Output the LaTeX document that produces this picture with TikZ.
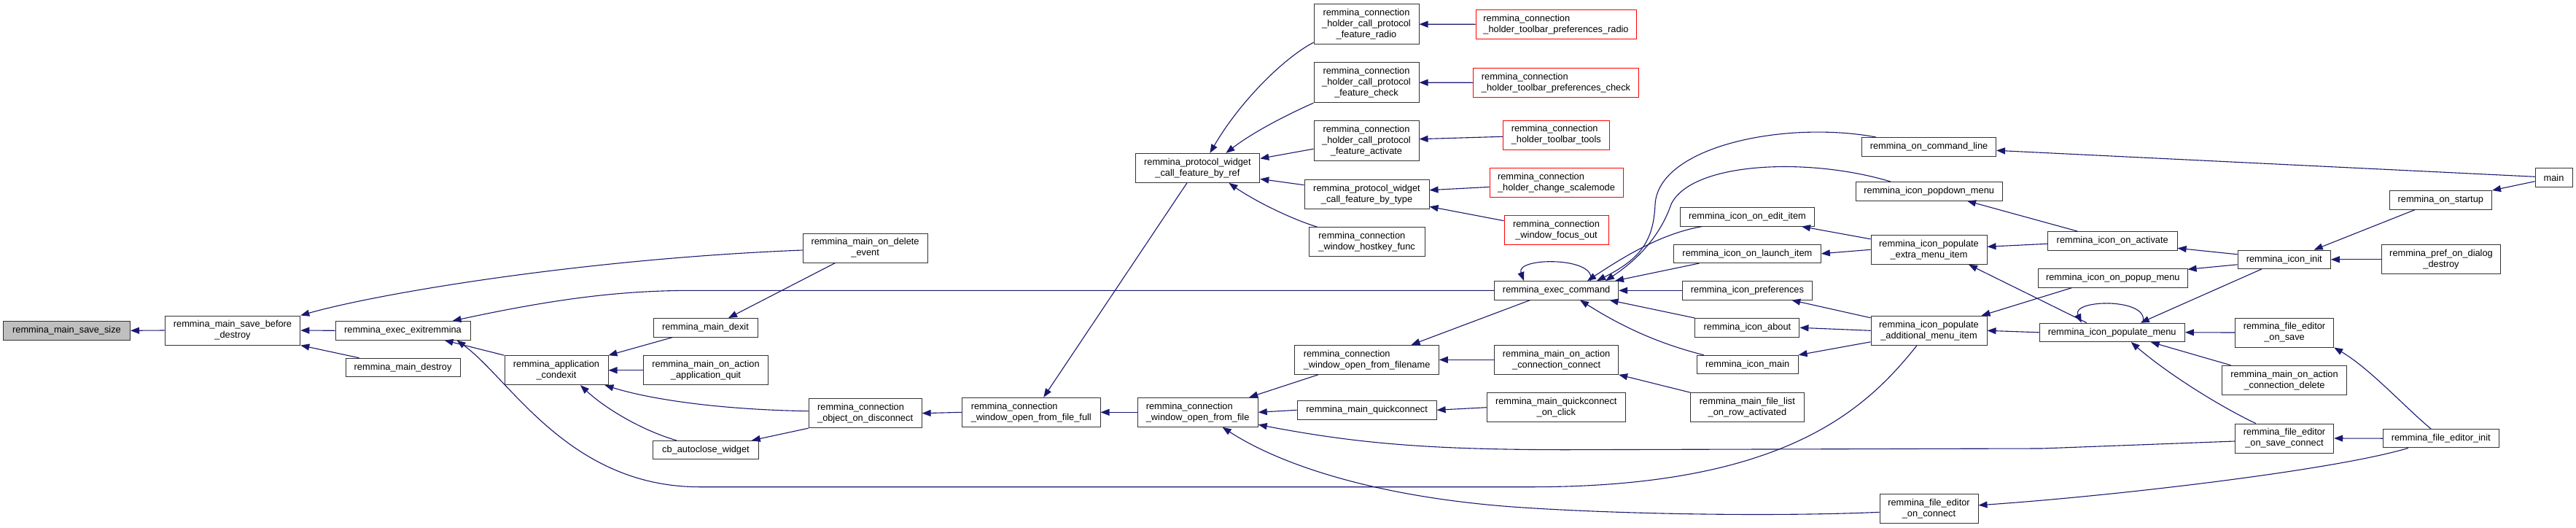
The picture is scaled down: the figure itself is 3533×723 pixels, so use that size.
\documentclass[tikz,border=0pt]{standalone}
\usepackage{fontspec}
\setmainfont{Liberation Sans}
\usetikzlibrary{arrows.meta}
\definecolor{edgeblue}{HTML}{191970}
\definecolor{nodegray}{HTML}{BFBFBF}
\tikzset{
  box/.style={draw=black!80, line width=1pt, fill=white, inner sep=0pt, align=center,
    font=\fontsize{12.8pt}{15pt}\selectfont},
  bl/.style={box, align=left},
  b1/.style={minimum height=25.5pt},
  b2/.style={minimum height=40pt},
  b3/.style={minimum height=55pt},
  redbox/.style={draw=red},
  e/.style={draw=edgeblue, line width=1.1pt, {Triangle[length=12pt,width=9pt]}-}
}
\begin{document}
\begin{tikzpicture}[x=1pt,y=-1pt]
\fill[white] (0,0) rectangle (3533,723);
\useasboundingbox (0,0) rectangle (3533,723);
% ---- nodes ----
\node[box,b1,fill=nodegray,minimum width=174pt] (savesize) at (91.5,453.3) {remmina\_main\_save\_size};
\node[box,b2,minimum width=185.6pt] (sbd) at (319,453) {remmina\_main\_save\_before\\\_destroy};
\node[box,b1,minimum width=185pt] (exitr) at (552.5,453.3) {remmina\_exec\_exitremmina};
\node[box,b1,minimum width=157pt] (mdest) at (552.6,504) {remmina\_main\_destroy};
\node[box,b2,minimum width=171pt] (delev) at (1186.6,340) {remmina\_main\_on\_delete\\\_event};
\node[box,b1,minimum width=143pt] (dexit) at (967.5,449.3) {remmina\_main\_dexit};
\node[box,b2,minimum width=142pt] (condexit) at (763,507.7) {remmina\_application\\\_condexit};
\node[box,b2,minimum width=171.5pt] (quit) at (968,507.7) {remmina\_main\_on\_action\\\_application\_quit};
\node[bl,b2,minimum width=155pt] (disc) at (1186.6,566.7) {remmina\_connection\\\_object\_on\_disconnect};
\node[box,b1,minimum width=144.5pt] (autoclose) at (968,617.2) {cb\_autoclose\_widget};
\node[bl,b2,minimum width=189.4pt] (full) at (1414.3,565.3) {remmina\_connection\\\_window\_open\_from\_file\_full};
\node[box,b2,minimum width=170.7pt] (ref) at (1642.4,230.4) {remmina\_protocol\_widget\\\_call\_feature\_by\_ref};
\node[box,b3,minimum width=144pt] (radio) at (1874,33.2) {remmina\_connection\\\_holder\_call\_protocol\\\_feature\_radio};
\node[box,b3,minimum width=144pt] (check) at (1874,113.2) {remmina\_connection\\\_holder\_call\_protocol\\\_feature\_check};
\node[box,b3,minimum width=144pt] (activate) at (1874,193.2) {remmina\_connection\\\_holder\_call\_protocol\\\_feature\_activate};
\node[box,b2,minimum width=171pt] (bytype) at (1874.5,266.7) {remmina\_protocol\_widget\\\_call\_feature\_by\_type};
\node[bl,b2,minimum width=159pt] (hostkey) at (1874.6,331.7) {remmina\_connection\\\_window\_hostkey\_func};
\node[bl,b2,redbox,minimum width=220pt] (rradio) at (2134,33.3) {remmina\_connection\\\_holder\_toolbar\_preferences\_radio};
\node[bl,b2,redbox,minimum width=227.3pt] (rcheck) at (2134,113.3) {remmina\_connection\\\_holder\_toolbar\_preferences\_check};
\node[bl,b2,redbox,minimum width=145.4pt] (rtools) at (2134.3,185) {remmina\_connection\\\_holder\_toolbar\_tools};
\node[bl,b2,redbox,minimum width=183pt] (rscale) at (2134.5,250.4) {remmina\_connection\\\_holder\_change\_scalemode};
\node[box,b2,redbox,minimum width=143pt] (rfocus) at (2134.5,315.4) {remmina\_connection\\\_window\_focus\_out};
\node[box,b1,minimum width=170pt] (exec) at (2134.6,398.3) {remmina\_exec\_command};
\node[bl,b2,minimum width=197.3pt] (filename) at (1874.6,493.3) {remmina\_connection\\\_window\_open\_from\_filename};
\node[bl,b2,minimum width=165.2pt] (openfile) at (1642.6,565.3) {remmina\_connection\\\_window\_open\_from\_file};
\node[box,b1,minimum width=191pt] (quick) at (1874.6,562.3) {remmina\_main\_quickconnect};
\node[box,b2,minimum width=170pt] (connconnect) at (2134.6,493.3) {remmina\_main\_on\_action\\\_connection\_connect};
\node[box,b2,minimum width=190.5pt] (onclick) at (2134.3,558.7) {remmina\_main\_quickconnect\\\_on\_click};
\node[box,b1,minimum width=184pt] (cmdline) at (2645.5,201.3) {remmina\_on\_command\_line};
\node[box,b1,minimum width=201.4pt] (popdown) at (2645.7,262.3) {remmina\_icon\_popdown\_menu};
\node[box,b1,minimum width=184pt] (edit) at (2396.4,297.3) {remmina\_icon\_on\_edit\_item};
\node[box,b1,minimum width=201.8pt] (launch) at (2396.4,347.8) {remmina\_icon\_on\_launch\_item};
\node[box,b2,minimum width=159pt] (extra) at (2645.5,342.3) {remmina\_icon\_populate\\\_extra\_menu\_item};
\node[box,b1,minimum width=178.6pt] (prefs) at (2396.4,398.3) {remmina\_icon\_preferences};
\node[box,b1,minimum width=143pt] (about) at (2396.4,449.3) {remmina\_icon\_about};
\node[box,b1,minimum width=139pt] (imain) at (2396.6,500) {remmina\_icon\_main};
\node[box,b2,minimum width=155.4pt] (rowact) at (2396.4,558.7) {remmina\_main\_file\_list\\\_on\_row\_activated};
\node[box,b2,minimum width=159pt] (additional) at (2645.5,453.3) {remmina\_icon\_populate\\\_additional\_menu\_item};
\node[box,b2,minimum width=135pt] (feconnect) at (2645.5,697.3) {remmina\_file\_editor\\\_on\_connect};
\node[box,b1,minimum width=51pt] (main) at (3502.5,243.7) {main};
\node[box,b1,minimum width=140.3pt] (startup) at (3347.3,274.3) {remmina\_on\_startup};
\node[box,b1,minimum width=177.7pt] (onact) at (2897.2,330.3) {remmina\_icon\_on\_activate};
\node[box,b1,minimum width=127.2pt] (init) at (3132.7,355.8) {remmina\_icon\_init};
\node[box,b2,minimum width=162.7pt] (prefdestroy) at (3348,355.8) {remmina\_pref\_on\_dialog\\\_destroy};
\node[box,b1,minimum width=204.5pt] (popup) at (2897.8,381.3) {remmina\_icon\_on\_popup\_menu};
\node[box,b1,minimum width=199.4pt] (popmenu) at (2896.7,455.8) {remmina\_icon\_populate\_menu};
\node[box,b2,minimum width=135.2pt] (onsave) at (3133,456) {remmina\_file\_editor\\\_on\_save};
\node[box,b2,minimum width=170.6pt] (conndelete) at (3133,521.3) {remmina\_main\_on\_action\\\_connection\_delete};
\node[box,b2,minimum width=135.2pt] (saveconn) at (3133,601) {remmina\_file\_editor\\\_on\_save\_connect};
\node[box,b1,minimum width=158.6pt] (feinit) at (3347.7,601.2) {remmina\_file\_editor\_init};
% ---- edges ----
\draw[e] (savesize.east) -- (sbd.west);
\draw[e] (sbd.north east) .. controls (520,402) and (800,355) .. ([yshift=-3pt]delev.west);
\draw[e] (sbd.east) -- (exitr.west);
\draw[e] (sbd.south east) -- ([xshift=19pt]mdest.north west);
\draw[e] ([xshift=68pt]exitr.north) .. controls (760,410) and (850,398.3) .. (950,398.3) -- (exec.west);
\draw[e] ([xshift=57pt]exitr.south) -- (condexit.north west);
\draw[e] ([xshift=74pt]exitr.south) .. controls (700,520) and (780,667.7) .. (960,667.7) -- (2100,667.7) .. controls (2450,667.7) and (2560,560) .. ([xshift=-16.5pt]additional.south);
\draw[e] (condexit.north east) -- ([xshift=27pt]dexit.south west);
\draw[e] (condexit.east) -- (quit.west);
\draw[e] ([xshift=-5pt]condexit.south east) .. controls (900,550) and (1000,562) .. ([yshift=3pt]disc.west);
\draw[e] ([xshift=33pt]condexit.south) .. controls (830,560) and (880,590) .. ([xshift=-40pt]autoclose.north);
\draw[e] ([xshift=31.5pt]dexit.north) -- ([xshift=-41pt]delev.south);
\draw[e] ([xshift=-10pt]autoclose.north east) -- (disc.south west);
\draw[e] (disc.east) -- (full.west);
\draw[e] ([xshift=17pt]full.north) -- ([xshift=-14.5pt]ref.south);
\draw[e] (full.east) -- (openfile.west);
\draw[e] ([xshift=17pt]ref.north) .. controls (1700,140) and (1760,80) .. ([yshift=3pt]radio.south west);
\draw[e] ([xshift=39pt]ref.north) .. controls (1720,180) and (1770,155) .. (check.south west);
\draw[e] ([yshift=13pt]ref.east) -- ([yshift=-11pt]activate.west);
\draw[e] ([yshift=-15pt]ref.east) -- ([yshift=13pt]bytype.west);
\draw[e] ([xshift=43pt]ref.south) .. controls (1720,275) and (1770,300) .. ([xshift=-68pt]hostkey.north);
\draw[e] (radio.east) -- (rradio.west);
\draw[e] (check.east) -- (rcheck.west);
\draw[e] ([yshift=2.5pt]activate.east) -- ([yshift=-2.3pt]rtools.west);
\draw[e] ([yshift=6pt]bytype.east) -- ([yshift=-6pt]rscale.west);
\draw[e] ([yshift=-16.6pt]bytype.east) -- ([yshift=12.7pt]rfocus.west);
\draw[e] ([xshift=-12.5pt]openfile.north east) -- ([xshift=32.5pt]filename.south west);
\draw[e] (openfile.east) -- (quick.west);
\draw[e] ([yshift=-17pt]openfile.east) .. controls (1860,608) and (1960,616.7) .. (2150,616.7) -- (2800,615) -- ([yshift=-4pt]saveconn.west);
\draw[e] ([xshift=34pt]openfile.south) .. controls (1760,640) and (1900,685) .. (2100,696.7) .. controls (2250,706) and (2450,708) .. ([yshift=-5pt]feconnect.west);
\draw[e] ([xshift=61pt]filename.north) -- ([xshift=-36pt]exec.south);
\draw[e] (filename.east) -- (connconnect.west);
\draw[e] (quick.east) -- (onclick.west);
\draw[e] (connconnect.south east) -- (rowact.north west);
\draw[e] ([xshift=-44.6pt]exec.north) .. controls (2078,352) and (2192,352) .. ([xshift=46.6pt]exec.north);
\draw[e] ([xshift=55.4pt]exec.north) .. controls (2250,355) and (2268,330) .. (2270,280) .. controls (2275,200) and (2450,165) .. ([xshift=-72.5pt]cmdline.north);
\draw[e] ([xshift=67.4pt]exec.north) .. controls (2255,350) and (2280,315) .. (2292,280) .. controls (2320,222) and (2480,215) .. ([xshift=-52.7pt]popdown.north);
\draw[e] ([xshift=42.4pt]exec.north) .. controls (2230,350) and (2280,320) .. ([xshift=-62pt]edit.south);
\draw[e] ([xshift=80.4pt]exec.north) -- ([xshift=-66pt]launch.south);
\draw[e] (exec.east) -- (prefs.west);
\draw[e] ([xshift=-12.6pt]exec.south east) -- (about.north west);
\draw[e] ([xshift=32.4pt]exec.south) .. controls (2220,445) and (2270,470) .. ([xshift=-60pt]imain.north);
\draw[e] ([xshift=-18pt]edit.south east) -- ([yshift=-6pt]extra.north west);
\draw[e] (launch.east) -- (extra.west);
\draw[e] ([xshift=-29pt]prefs.south east) -- ([yshift=-3pt]additional.north west);
\draw[e] (about.east) -- (additional.west);
\draw[e] (imain.north east) -- ([yshift=5pt]additional.south west);
\draw[e] ([yshift=-5pt]cmdline.east) -- ([yshift=1.4pt]main.west);
\draw[e] ([xshift=52.3pt]popdown.south) -- ([xshift=-48pt]onact.north);
\draw[e] ([yshift=4pt]extra.east) -- ([yshift=-4pt]onact.west);
\draw[e] ([xshift=54.5pt]extra.south) -- ([xshift=-35pt]popmenu.north);
\draw[e] ([xshift=-8pt]additional.north east) -- ([xshift=-56pt]popup.south);
\draw[e] (additional.east) -- (popmenu.west);
\draw[e] ([xshift=-42pt]popmenu.north) .. controls (2840,410) and (2950,408) .. ([xshift=42pt]popmenu.north);
\draw[e] ([xshift=39pt]popmenu.north) -- ([xshift=-31pt]init.south);
\draw[e] ([yshift=-10pt]onact.east) -- ([yshift=7pt]init.west);
\draw[e] ([yshift=12pt]popup.east) -- ([yshift=-7pt]init.west);
\draw[e] ([xshift=41pt]init.north) -- ([xshift=-35pt]startup.south);
\draw[e] (init.east) -- (prefdestroy.west);
\draw[e] (startup.north east) -- ([yshift=-5pt]main.west);
\draw[e] (popmenu.east) -- (onsave.west);
\draw[e] ([xshift=53pt]popmenu.south) -- ([xshift=-73.5pt]conndelete.north);
\draw[e] ([xshift=26pt]popmenu.south) .. controls (2970,510) and (3040,555) .. ([xshift=-39.4pt]saveconn.north);
\draw[e] (onsave.south east) .. controls (3250,505) and (3300,560) .. ([xshift=-13.7pt]feinit.north);
\draw[e] (saveconn.east) -- (feinit.west);
\draw[e] ([yshift=4.5pt]feconnect.east) .. controls (2900,680) and (3200,645) .. ([xshift=-45pt]feinit.south);
\end{tikzpicture}
\end{document}
